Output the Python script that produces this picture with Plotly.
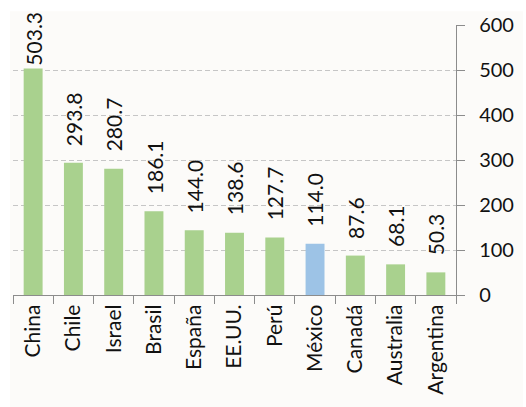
import plotly.graph_objects as go

countries = ["China", "Chile", "Israel", "Brasil", "España", "EE.UU.", "Perú",
             "México", "Canadá", "Australia", "Argentina"]
values = [503.3, 293.8, 280.7, 186.1, 144.0, 138.6, 127.7, 114.0, 87.6, 68.1, 50.3]
highlight = "México"
y_ticks = [0, 100, 200, 300, 400, 500, 600]

GREEN = "#a9d18e"
BLUE = "#9dc3e6"
colors = [BLUE if c == highlight else GREEN for c in countries]

W, H = 526, 407
ml, mr, mt, mb = 13, 63, 22, 111
pw, ph = W - ml - mr, H - mt - mb
YMAX = 600

FONT = "Lato"
LABEL_SIZE = 21

fig = go.Figure(go.Bar(
    x=countries, y=values,
    marker=dict(color=colors, line=dict(width=0)),
    cliponaxis=False,
    hoverinfo="x+y",
))

# value labels above bars (gap shrinks when the label would leave the chart)
LABEL_LEN = 54
for c, v in zip(countries, values):
    bar_top_px = mt + (YMAX - v) / YMAX * ph
    gap = max(1, min(15, bar_top_px - LABEL_LEN - 12))
    fig.add_annotation(
        x=c, y=v, xref="x", yref="y",
        text=f"{v:.1f}", showarrow=False, textangle=-90,
        xanchor="center", yanchor="bottom", yshift=gap,
        font=dict(family=FONT, size=LABEL_SIZE, color="#111111"),
    )

def px2paper_x(px):
    return (px - ml) / pw

def px2paper_y(py):
    return (H - mb - py) / ph

fig.add_shape(type="rect", xref="paper", yref="paper",
              x0=px2paper_x(10), x1=px2paper_x(W + 5),
              y0=px2paper_y(H + 5), y1=px2paper_y(8),
              fillcolor="#fcfbf9", line=dict(width=0), layer="below")

fig.update_layout(
    width=W, height=H,
    margin=dict(l=ml, r=mr, t=mt, b=mb),
    paper_bgcolor="white",
    plot_bgcolor="rgba(0,0,0,0)",
    showlegend=False,
    bargap=0.53,
    font=dict(family=FONT, size=20, color="#111111"),
    xaxis=dict(
        type="category",
        tickangle=-90,
        ticks="outside", tickson="boundaries", ticklen=8,
        tickcolor="#8c8c8c", tickwidth=1.3,
        showline=True, linecolor="#8c8c8c", linewidth=1.3,
        showgrid=False,
        tickfont=dict(family=FONT, size=LABEL_SIZE, color="#111111"),
    ),
    yaxis=dict(
        side="right",
        range=[0, YMAX],
        tickvals=y_ticks,
        ticks="outside", ticklen=8, tickcolor="#8c8c8c", tickwidth=1.3,
        showline=True, linecolor="#8c8c8c", linewidth=1.3,
        showgrid=True, gridcolor="#c6c6c6", griddash="5px,3px", gridwidth=1.2,
        zeroline=False,
        ticklabelstandoff=10,
        tickfont=dict(family=FONT, size=20, color="#111111"),
    ),
)

fig.write_html("out.html",
               config={"displayModeBar": False},
               post_script="document.body.style.margin='0';document.body.style.overflow='hidden';")
